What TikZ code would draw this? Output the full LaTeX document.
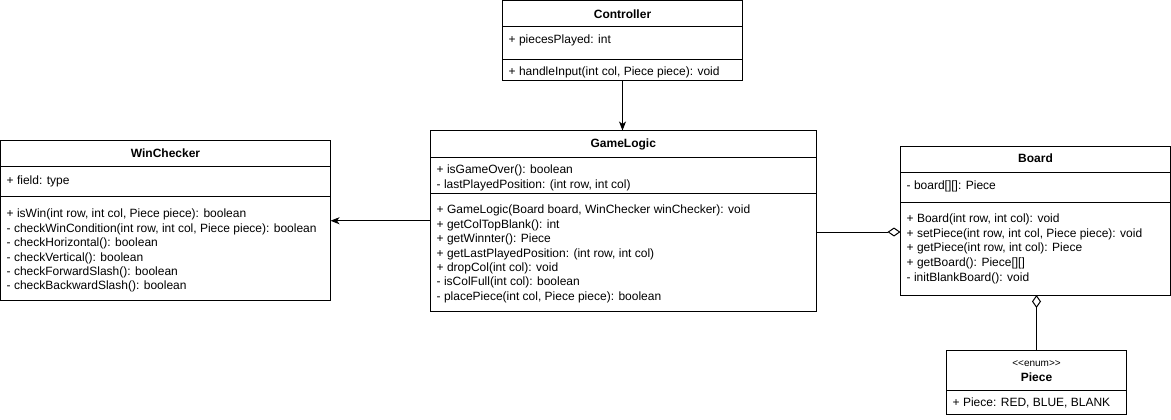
\documentclass[tikz,border=0pt]{standalone}
\usepackage{fontspec}
\setmainfont{Liberation Sans}
\usetikzlibrary{arrows.meta}

\tikzset{
	umlbox/.style={draw, line width=1pt, inner sep=0pt, outer sep=0pt, anchor=north west},
	umltitle/.style={font=\fontsize{12}{14.4}\selectfont\bfseries, inner sep=0pt, anchor=base},
	members/.style={font=\fontsize{12}{14.4}\selectfont, align=left, inner sep=0pt, anchor=north west},
	sepline/.style={line width=1pt},
	assoc/.style={line width=1pt, -{Stealth[length=9pt, width=7pt, inset=2.5pt]}},
	aggr/.style={line width=1pt, -{Diamond[open, length=13pt, width=9pt]}}
}

\begin{document}
\begin{tikzpicture}[x=1pt, y=-1pt]
		\useasboundingbox (0,0) rectangle (1171,420);

		% Controller
		\node[umlbox, minimum width=240pt, minimum height=80pt] (ctrl) at (502.5,0.5) {};
		\draw[sepline] (ctrl.north west) ++(0,26.5) -- ++(240,0);
		\draw[sepline] (ctrl.north west) ++(0,59.5) -- ++(240,0);
		\node[umltitle] (ctrlTitle) at (622.5,18.5) {Controller};
		\node[members] (ctrlAttr) at (508.5,35) {+ piecesPlayed: int};
		\node[members] (ctrlOps) at (508.5,67) {+ handleInput(int col, Piece piece): void};

		% WinChecker
		\node[umlbox, minimum width=330pt, minimum height=159.5pt] (wc) at (0.5,140.5) {};
		\draw[sepline] (wc.north west) ++(0,25.5) -- ++(330,0);
		\draw[sepline] (wc.north west) ++(0,55.5) -- ++(330,0);
		\node[umltitle] (wcTitle) at (165.5,157.5) {WinChecker};
		\node[members] (wcAttr) at (6.5,176) {+ field: type};
		\node[members] (wcOps) at (6.5,209) {+ isWin(int row, int col, Piece piece): boolean\\
			- checkWinCondition(int row, int col, Piece piece): boolean\\
			- checkHorizontal(): boolean\\
			- checkVertical(): boolean\\
			- checkForwardSlash(): boolean\\
			- checkBackwardSlash(): boolean};

		% GameLogic
		\node[umlbox, minimum width=385.5pt, minimum height=180.5pt] (gl) at (430.5,130.5) {};
		\draw[sepline] (gl.north west) ++(0,26.5) -- ++(385.5,0);
		\draw[sepline] (gl.north west) ++(0,62.5) -- ++(385.5,0);
		\node[umltitle] (glTitle) at (623.25,147.5) {GameLogic};
		\node[members] (glAttr) at (436.5,165) {+ isGameOver(): boolean\\
			- lastPlayedPosition: (int row, int col)};
		\node[members] (glOps) at (436.5,205) {+ GameLogic(Board board, WinChecker winChecker): void\\
			+ getColTopBlank(): int\\
			+ getWinnter(): Piece\\
			+ getLastPlayedPosition: (int row, int col)\\
			+ dropCol(int col): void\\
			- isColFull(int col): boolean\\
			- placePiece(int col, Piece piece): boolean};

		% Board
		\node[umlbox, minimum width=270pt, minimum height=148.5pt] (bd) at (900.5,146.5) {};
		\draw[sepline] (bd.north west) ++(0,25.5) -- ++(270,0);
		\draw[sepline] (bd.north west) ++(0,55.5) -- ++(270,0);
		\node[umltitle] (bdTitle) at (1035.5,162.5) {Board};
		\node[members] (bdAttr) at (906.5,181) {- board[][]: Piece};
		\node[members, font=\fontsize{12}{14.7}\selectfont] (bdOps) at (906.5,213.5) {+ Board(int row, int col): void\\
			+ setPiece(int row, int col, Piece piece): void\\
			+ getPiece(int row, int col): Piece\\
			+ getBoard(): Piece[][]\\
			- initBlankBoard(): void};

		% Piece
		\node[umlbox, minimum width=180pt, minimum height=63.5pt] (pc) at (946.5,350.5) {};
		\draw[sepline] (pc.north west) ++(0,39.5) -- ++(180,0);
		\node[inner sep=0pt, anchor=base, font=\fontsize{10}{12}\selectfont] (pcStereo) at (1036.5,366) {<\kern0pt<enum>\kern0pt>};
		\node[umltitle] (pcTitle) at (1036.5,381.5) {Piece};
		\node[members] (pcAttr) at (952.5,398) {+ Piece: RED, BLUE, BLANK};

		% connectors
		\draw[assoc] (ctrl.south) -- (ctrl.south |- gl.north);
		\draw[assoc] (gl.west) -- (gl.west -| wc.east);
		\draw[aggr] (gl.east |- 0,232) -- (bd.west |- 0,232);
		\draw[aggr] (pc.north) -- (pc.north |- bd.south);

	\end{tikzpicture}
\end{document}
